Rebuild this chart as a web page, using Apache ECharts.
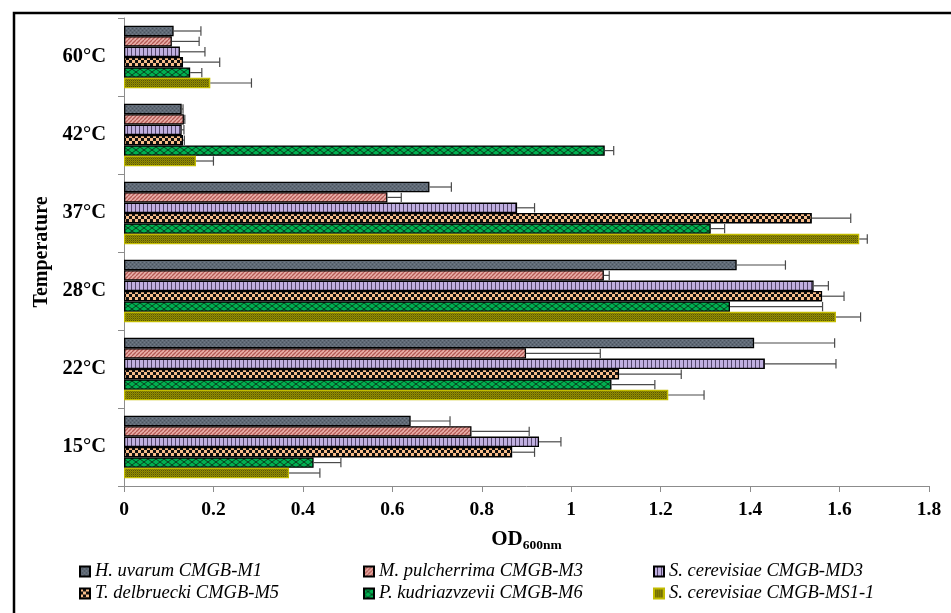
<!DOCTYPE html>
<html>
<head>
<meta charset="utf-8">
<script src="https://cdn.jsdelivr.net/npm/echarts@6/dist/echarts.min.js"></script>
<style>html,body{margin:0;padding:0;background:#fff}#chart{width:951px;height:613px}</style>
</head>
<body>
<div id="chart"></div>
<script>
// Categories, top to bottom
const categories = ['60°C', '42°C', '37°C', '28°C', '22°C', '15°C'];
const seriesNames = ['H. uvarum CMGB-M1', 'M. pulcherrima CMGB-M3', 'S. cerevisiae CMGB-MD3',
                     'T. delbruecki CMGB-M5', 'P. kudriazvzevii CMGB-M6', 'S. cerevisiae CMGB-MS1-1'];
const xTicks = [0, 0.2, 0.4, 0.6, 0.8, 1, 1.2, 1.4, 1.6, 1.8];

const hUvarum     = [0.111, 0.129, 0.683, 1.370, 1.409, 0.641];
const hUvarumErr  = [0.061, 0.003, 0.049, 0.109, 0.180, 0.088];
const mPulch      = [0.107, 0.134, 0.589, 1.073, 0.899, 0.777];
const mPulchErr   = [0.061, 0.002, 0.031, 0.012, 0.166, 0.129];
const sCerMD3     = [0.125, 0.129, 0.879, 1.542, 1.433, 0.928];
const sCerMD3Err  = [0.056, 0.005, 0.039, 0.033, 0.159, 0.049];
const tDel        = [0.132, 0.132, 1.538, 1.561, 1.107, 0.868];
const tDelErr     = [0.082, 0.003, 0.087, 0.049, 0.139, 0.050];
const pKud        = [0.148, 1.075, 1.312, 1.355, 1.090, 0.424];
const pKudErr     = [0.026, 0.020, 0.031, 0.207, 0.097, 0.061];
const sCerMS      = [0.193, 0.161, 1.644, 1.592, 1.217, 0.369];
const sCerMSErr   = [0.092, 0.039, 0.018, 0.055, 0.080, 0.069];

const values = [hUvarum, mPulch, sCerMD3, tDel, pKud, sCerMS];
const errors = [hUvarumErr, mPulchErr, sCerMD3Err, tDelErr, pKudErr, sCerMSErr];

function pat(w, h, draw) {
  const c = document.createElement('canvas');
  c.width = w; c.height = h;
  const g = c.getContext('2d');
  draw(g, w, h);
  return { image: c, repeat: 'repeat' };
}
const patterns = [
  pat(4, 4, (g) => { g.fillStyle = '#5f6975'; g.fillRect(0,0,4,4); g.fillStyle = '#4a535e'; g.fillRect(0,0,1,1); g.fillRect(2,2,1,1); g.fillStyle='#727c88'; g.fillRect(2,0,1,1); g.fillRect(0,2,1,1); }),
  pat(4, 4, (g) => { g.fillStyle = '#eab0aa'; g.fillRect(0,0,4,4); g.strokeStyle = '#b45a55'; g.lineWidth = 1.3;
      for (let o = -4; o <= 4; o += 4) { g.beginPath(); g.moveTo(o, 4); g.lineTo(o + 4, 0); g.stroke(); } }),
  pat(4, 1, (g) => { g.fillStyle = '#c0afe0'; g.fillRect(0,0,4,1); g.fillStyle = '#54476c'; g.fillRect(3,0,1,1); }),
  pat(6, 6, (g) => { g.fillStyle = '#111'; g.fillRect(0,0,6,6); g.fillStyle = '#f8bd8a'; g.fillRect(0,0,3,3); g.fillRect(3,3,3,3); }),
  pat(8, 6, (g) => { g.fillStyle = '#00b050'; g.fillRect(0,0,8,6); g.strokeStyle = '#0b3d1e'; g.lineWidth = 1;
      g.beginPath(); g.moveTo(0,0); g.lineTo(8,6); g.moveTo(8,0); g.lineTo(0,6); g.stroke(); }),
  pat(2, 2, (g) => { g.fillStyle = '#948e00'; g.fillRect(0,0,2,2); g.fillStyle = '#57540a'; g.fillRect(1,0,1,1); g.fillStyle='#7a7500'; g.fillRect(0,1,1,1); })
];
const borderColors = ['#000', '#000', '#000', '#000', '#000', '#c2bb00'];

const N = 6;
const GAP = 0.2;
const FONT = 'Liberation Serif';

const series = [];
seriesNames.forEach((name, i) => {
  series.push({
    name: name,
    type: 'bar',
    data: values[i],
    barGap: '0%',
    barCategoryGap: (GAP * 100) + '%',
    itemStyle: { color: patterns[i], borderColor: borderColors[i], borderWidth: 1.3 },
    z: 2
  });
});
seriesNames.forEach((name, i) => {
  series.push({
    type: 'custom',
    name: 'err' + i,
    data: values[i].map((v, k) => [v, k, errors[i][k]]),
    encode: { x: 0, y: 1 },
    z: 3,
    renderItem: function (params, api) {
      const v = api.value(0), cat = api.value(1), e = api.value(2);
      const c0 = api.coord([v, cat]);
      const c1 = api.coord([v + e, cat]);
      const band = api.size([0, 1])[1];
      const total = band * (1 - GAP);
      const bw = total / N;
      const y = c0[1] - total / 2 + (i + 0.5) * bw;
      const cap = bw * 0.9;
      const st = { stroke: '#4a4a4a', lineWidth: 1.2 };
      return { type: 'group', children: [
        { type: 'line', shape: { x1: c0[0], y1: y, x2: c1[0], y2: y }, style: st },
        { type: 'line', shape: { x1: c1[0], y1: y - cap / 2, x2: c1[0], y2: y + cap / 2 }, style: st }
      ]};
    }
  });
});

const legendPos = [[79, 562], [363, 562], [653, 562], [79, 584], [363, 584], [653, 584]];
const legends = seriesNames.map((name, i) => ({
  data: [name],
  left: legendPos[i][0], top: legendPos[i][1],
  padding: 0, itemWidth: 10, itemHeight: 10, itemGap: 5,
  icon: 'rect',
  selectedMode: false,
  textStyle: { fontFamily: FONT, fontStyle: 'italic', fontSize: 18.5, color: '#000' }
}));

const chart = echarts.init(document.getElementById('chart'), null, { renderer: 'canvas' });
chart.setOption({
  animation: false,
  backgroundColor: '#fff',
  grid: { left: 124, right: 22, top: 18, bottom: 127, containLabel: false },
  legend: legends,
  xAxis: {
    type: 'value', min: xTicks[0], max: xTicks[xTicks.length - 1], interval: 0.2,
    splitLine: { show: false },
    axisLine: { show: true, lineStyle: { color: '#8c8c8c', width: 1 } },
    axisTick: { show: true, length: 6, lineStyle: { color: '#8c8c8c' } },
    axisLabel: { fontFamily: FONT, fontWeight: 'bold', fontSize: 19.5, color: '#000', margin: 14 },
    name: '{a|OD}{b|600nm}',
    nameLocation: 'middle', nameGap: 43,
    nameTextStyle: { rich: {
      a: { fontFamily: FONT, fontWeight: 'bold', fontSize: 21, color: '#000', verticalAlign: 'bottom' },
      b: { fontFamily: FONT, fontWeight: 'bold', fontSize: 13.5, color: '#000', verticalAlign: 'bottom', padding: [0, 0, -3, 0] }
    } }
  },
  yAxis: {
    type: 'category', data: categories, inverse: true,
    axisLine: { show: true, lineStyle: { color: '#8c8c8c', width: 1 } },
    axisTick: { show: true, length: 6, lineStyle: { color: '#8c8c8c' } },
    axisLabel: { fontFamily: FONT, fontWeight: 'bold', fontSize: 20.5, color: '#000', margin: 18 },
    name: 'Temperature', nameLocation: 'middle', nameGap: 71, nameRotate: 90,
    nameTextStyle: { fontFamily: FONT, fontWeight: 'bold', fontSize: 20, color: '#000' }
  },
  graphic: [{
    type: 'rect', shape: { x: 14, y: 13, width: 1000, height: 1000 },
    style: { fill: 'none', stroke: '#000', lineWidth: 2.5 }, silent: true, z: 10
  }],
  series: series
});
</script>
</body>
</html>
